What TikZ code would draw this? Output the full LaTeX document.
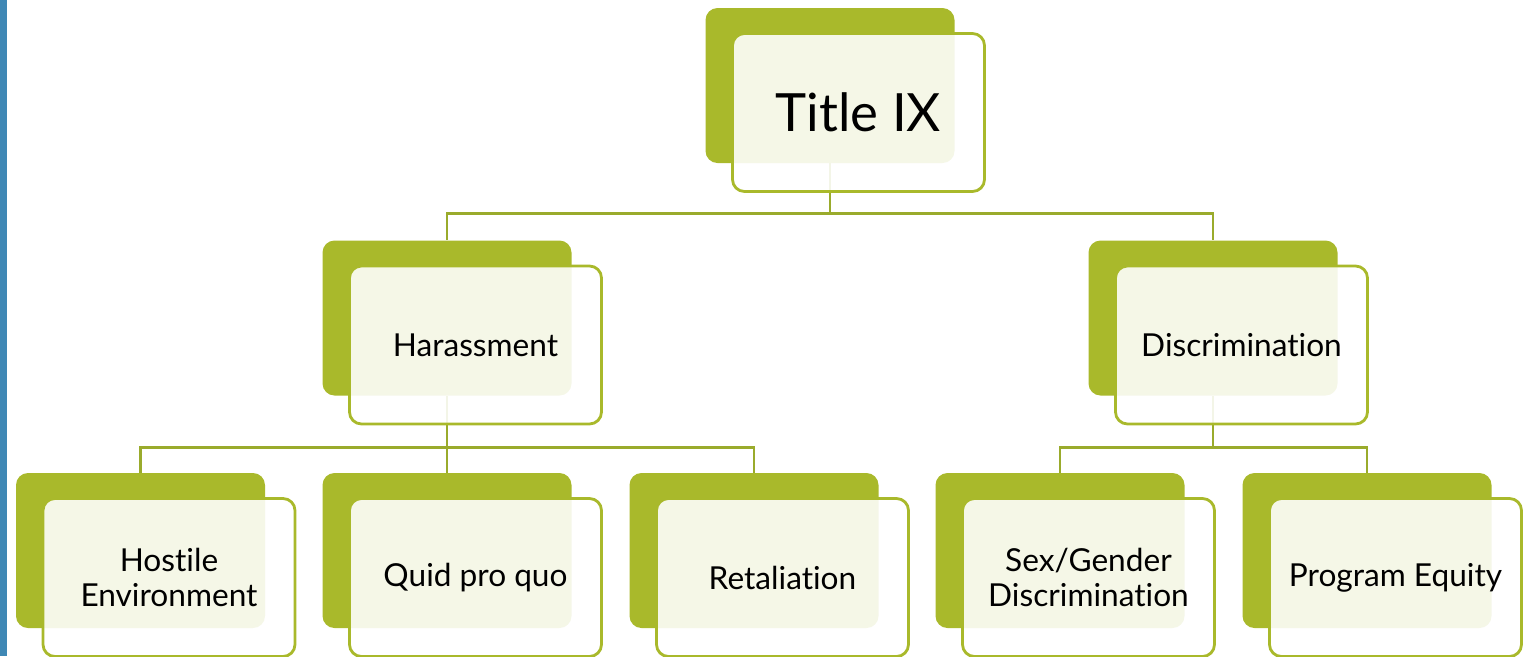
\documentclass[tikz,border=0pt]{standalone}
\usepackage{fontspec}
\setmainfont{Lato}[Ligatures={NoCommon,NoRequired,NoContextual}]
\usepackage{tikz}
\usetikzlibrary{positioning}
\definecolor{LeafGreen}{HTML}{A9B92B}
\definecolor{LinkGreen}{HTML}{9AAB2C}
\definecolor{SideBlue}{HTML}{3F88B5}

\begin{document}
\begin{tikzpicture}[
  back/.style={fill=LeafGreen, rounded corners=0.24cm, minimum width=4.98cm, minimum height=3.1cm, inner sep=0pt},
  front/.style={draw=LeafGreen, line width=1.6pt, fill=white, fill opacity=0.89, text opacity=1,
    rounded corners=0.24cm, minimum width=5.04cm, minimum height=3.16cm, inner sep=0pt,
    xshift=0.57cm, yshift=-0.54cm, align=center, font=\fontsize{18}{19.5}\selectfont},
  link/.style={draw=LinkGreen, line width=1.6pt}
]
\useasboundingbox (0,0) rectangle (30.64,-13.12);

% Side bar
\fill[SideBlue] (0,0) rectangle (0.15,-13.12);

% Back boxes
\node[back] (title) at (16.6,-1.71) {};
\node[back] (harass) at (8.94,-6.36) {};
\node[back] (discrim) at (24.26,-6.36) {};
\foreach \x/\n in {2.81/hostile, 8.94/quid, 15.08/retal, 21.2/sexgen, 27.34/equity} {
  \node[back] (\n) at (\x,-11.01) {};
}

% Connectors
\draw[link] (title.south) -- ++(0,-1) -| (harass.north);
\draw[link] (title.south) -- ++(0,-1) -| (discrim.north);
\draw[link] (harass.south) -- ++(0,-1.03) -| (hostile.north);
\draw[link] (harass.south) -- ++(0,-1.03) -| (quid.north);
\draw[link] (harass.south) -- ++(0,-1.03) -| (retal.north);
\draw[link] (discrim.south) -- ++(0,-1.03) -| (sexgen.north);
\draw[link] (discrim.south) -- ++(0,-1.03) -| (equity.north);

% Front boxes with labels
\node[front, font=\fontsize{30}{32}\selectfont] (titlef) at (title) {Title IX};
\node[front] (harassf) at (harass) {Harassment};
\node[front] (discrimf) at (discrim) {Discrimination};
\node[front] (hostilef) at (hostile) {Hostile\\Environment};
\node[front] (quidf) at (quid) {Quid pro quo};
\node[front] (retalf) at (retal) {Retaliation};
\node[front] (sexgenf) at (sexgen) {Sex/Gender\\Discrimination};
\node[front] (equityf) at (equity) {Program Equity};
\end{tikzpicture}
\end{document}
